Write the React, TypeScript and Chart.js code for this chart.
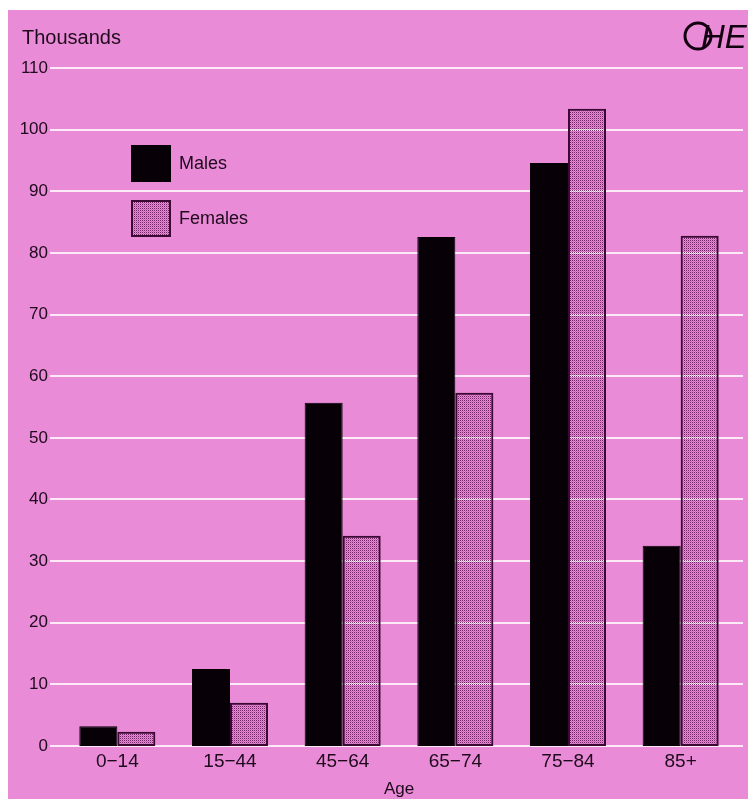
import React, { useEffect, useRef } from "react";
import { Chart, registerables } from "chart.js";

Chart.register(...registerables);

const categories = ["0−14", "15−44", "45−64", "65−74", "75−84", "85+"];
const males = [3.2, 12.5, 55.7, 82.6, 94.6, 32.5];
const females = [2.3, 7.0, 34.1, 57.3, 103.4, 82.8];
const seriesNames = ["Males", "Females"];
const yMin = 0;
const yMax = 110;
const yStep = 10;
const yUnitLabel = "Thousands";
const xTitle = "Age";

const BG = "#E98BD6";
const GRID = "#FDE9F8";
const TEXT = "#1e0a1c";
const FONT = "'Liberation Sans', Arial, Helvetica, sans-serif";
const MALE = "#070007";
const FEMALE_BORDER = "#3a0a35";

function makePattern(ctx: CanvasRenderingContext2D) {
  const tile = document.createElement("canvas");
  tile.width = 2;
  tile.height = 2;
  const g = tile.getContext("2d")!;
  g.fillStyle = "rgba(90,15,80,0.85)";
  g.fillRect(0, 0, 1, 1);
  g.fillStyle = "rgba(140,40,125,0.35)";
  g.fillRect(1, 1, 1, 1);
  return ctx.createPattern(tile, "repeat")!;
}

export default function App() {
  const ref = useRef<HTMLCanvasElement | null>(null);

  useEffect(() => {
    const canvas = ref.current!;
    const ctx = canvas.getContext("2d")!;
    const pattern = makePattern(ctx);

    const decor = {
      id: "decor",
      beforeDraw(chart: any) {
        const c = chart.ctx;
        c.save();
        c.fillStyle = BG;
        c.fillRect(0, 0, chart.width, chart.height);
        c.restore();
      },
      beforeDatasetsDraw(chart: any) {
        const c = chart.ctx;
        const ys = chart.scales.y;
        const area = chart.chartArea;
        c.save();
        c.strokeStyle = GRID;
        c.lineWidth = 2;
        ys.ticks.forEach((t: any) => {
          const y = Math.round(ys.getPixelForValue(t.value));
          c.beginPath();
          c.moveTo(area.left - 11, y);
          c.lineTo(area.right + 6, y);
          c.stroke();
        });
        c.restore();
      },
      afterDatasetsDraw(chart: any) {
        const c = chart.ctx;
        c.save();
        // unit label
        c.fillStyle = TEXT;
        c.font = `20px ${FONT}`;
        c.textAlign = "left";
        c.textBaseline = "middle";
        c.fillText(yUnitLabel, 14, 28);

        // legend
        const items = [
          { name: seriesNames[0], fill: MALE, stroke: MALE, y: 135 },
          { name: seriesNames[1], fill: pattern, stroke: FEMALE_BORDER, y: 190 },
        ];
        items.forEach((it) => {
          c.fillStyle = it.fill as any;
          c.fillRect(123, it.y, 40, 37);
          c.strokeStyle = it.stroke;
          c.lineWidth = 2;
          c.strokeRect(124, it.y + 1, 38, 35);
          c.fillStyle = TEXT;
          c.font = `18px ${FONT}`;
          c.textAlign = "left";
          c.textBaseline = "middle";
          c.fillText(it.name, 171, it.y + 19);
        });

        // logo
        c.strokeStyle = "#120010";
        c.lineWidth = 3;
        c.beginPath();
        c.arc(690, 26, 13, 0, Math.PI * 2);
        c.stroke();
        c.fillStyle = "#120010";
        c.font = `italic 33px ${FONT}`;
        c.textAlign = "left";
        c.textBaseline = "alphabetic";
        c.fillText("HE", 693, 38);
        c.restore();
      },
    };

    const chart = new Chart(canvas, {
      type: "bar",
      data: {
        labels: categories,
        datasets: [
          {
            label: seriesNames[0],
            data: males,
            backgroundColor: MALE,
            borderColor: MALE,
            borderWidth: 1,
            borderSkipped: false,
            categoryPercentage: 0.675,
            barPercentage: 1.0,
          },
          {
            label: seriesNames[1],
            data: females,
            backgroundColor: pattern as any,
            borderColor: FEMALE_BORDER,
            borderWidth: 2,
            borderSkipped: false,
            categoryPercentage: 0.675,
            barPercentage: 1.0,
          },
        ],
      },
      options: {
        animation: false,
        responsive: true,
        maintainAspectRatio: false,
        layout: { padding: { top: 58, right: 19, left: 0, bottom: 0 } },
        plugins: {
          legend: { display: false },
          tooltip: { enabled: false },
          title: { display: false },
        },
        scales: {
          x: {
            grid: { display: false, drawTicks: false },
            border: { display: false },
            ticks: {
              color: TEXT,
              font: { family: FONT, size: 19 },
              padding: 4,
              maxRotation: 0,
            },
            title: {
              display: true,
              text: xTitle,
              color: TEXT,
              font: { family: FONT, size: 17, lineHeight: 1 },
              padding: { top: 0, bottom: 3 },
            },
            afterFit(scale: any) {
              scale.height = 55;
            },
          },
          y: {
            min: yMin,
            max: yMax,
            grid: { display: false, drawTicks: false },
            border: { display: false },
            ticks: {
              stepSize: yStep,
              color: TEXT,
              font: { family: FONT, size: 17 },
              padding: 13,
            },
            afterFit(scale: any) {
              scale.width = 53;
            },
          },
        },
      },
      plugins: [decor],
    });

    return () => chart.destroy();
  }, []);

  return (
    <div
      style={{
        position: "relative",
        top: 2,
        width: 748,
        height: 791,
        background: BG,
      }}
    >
      <canvas ref={ref} />
    </div>
  );
}
